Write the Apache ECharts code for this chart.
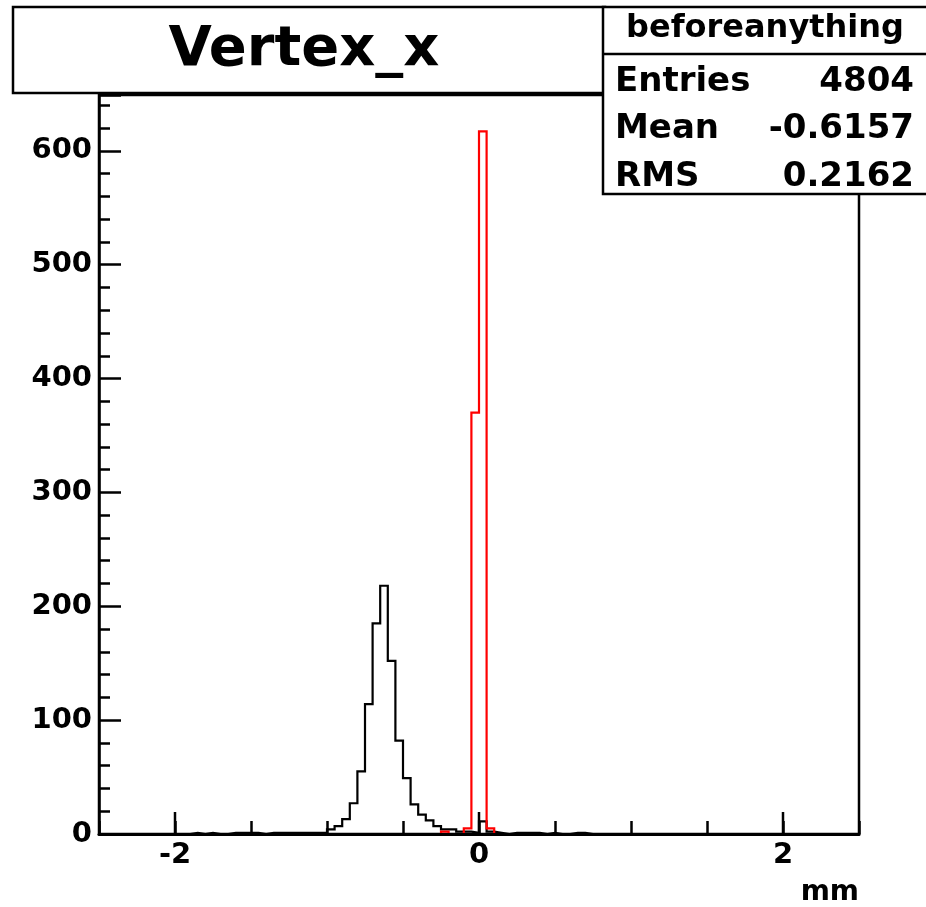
<!DOCTYPE html>
<html><head><meta charset="utf-8">
<script src="https://cdn.jsdelivr.net/npm/echarts@6/dist/echarts.min.js"></script>
<style>html,body{margin:0;padding:0;background:#fff}#c{width:926px;height:907px}</style>
</head><body><div id="c"></div>
<script>
const titleText = 'Vertex_x';
const statsName = 'beforeanything';
const statsLabels = ['Entries', 'Mean', 'RMS'];
const statsValues = ['4804', '-0.6157', '0.2162'];
const xAxisTitle = 'mm';
const xMin = -2.5, xMax = 2.5, binWidth = 0.05;
const yMax = 649;
const xLabelTicks = [-2, 0, 2];

// black histogram ("beforeanything"), 100 bins from -2.5 to 2.5
const blackCounts = [
  0,0,0,0,0,0,0,0,0,0,
  0,0,1,0,1,0,0,1,1,1,
  1,0,1,1,1,1,1,1,1,1,
  4,7,13,27,55,114,185,218,152,82,
  49,26,17,12,7,4,4,2,2,1,
  11,2,1,0,1,1,1,1,0,1,
  0,0,1,1,0,0,0,0,0,0,
  0,0,0,0,0,0,0,0,0,0,
  0,0,0,0,0,0,0,0,0,0,
  0,0,0,0,0,0,0,0,0,0
];
// red histogram, same binning
const redCounts = [
  0,0,0,0,0,0,0,0,0,0,
  0,0,0,0,0,0,0,0,0,0,
  0,0,0,0,0,0,0,0,0,0,
  0,0,0,0,0,0,0,0,0,0,
  0,0,0,0,0,2,0,0,5,370,
  617,5,0,0,0,0,0,0,0,0,
  0,0,0,0,0,0,0,0,0,0,
  0,0,0,0,0,0,0,0,0,0,
  0,0,0,0,0,0,0,0,0,0,
  0,0,0,0,0,0,0,0,0,0
];

function stepData(counts) {
  const d = [];
  for (let i = 0; i < counts.length; i++) d.push([xMin + i * binWidth, counts[i]]);
  d.push([xMax, counts[counts.length - 1]]);
  return d;
}

const FF = "'DejaVu Sans', sans-serif";
const chart = echarts.init(document.getElementById('c'), null, {renderer: 'canvas'});

function txt(text, x, y, size, align, valign) {
  return {
    type: 'text', x: x, y: y, z: 110,
    style: {text: text, fill: '#000', fontSize: size, fontWeight: 'bold', fontFamily: FF,
            align: align, textAlign: align, verticalAlign: valign, textVerticalAlign: valign}
  };
}

const rowY = [82, 129, 177];
const graphics = [
  {type: 'rect', z: 100, shape: {x: 13, y: 7, width: 592, height: 86},
   style: {fill: '#fff', stroke: '#000', lineWidth: 2.5}},
  txt(titleText, 304, 50, 56, 'center', 'middle'),
  {type: 'rect', z: 100, shape: {x: 603, y: 7, width: 340, height: 187},
   style: {fill: '#fff', stroke: '#000', lineWidth: 2.5}},
  {type: 'line', z: 101, shape: {x1: 603, y1: 54, x2: 930, y2: 54},
   style: {stroke: '#000', lineWidth: 2.5}},
  txt(statsName, 765, 29, 32, 'center', 'middle'),
  txt(xAxisTitle, 859, 893, 28, 'right', 'middle')
];
statsLabels.forEach((l, i) => {
  graphics.push(txt(l, 615, rowY[i], 34, 'left', 'middle'));
  graphics.push(txt(statsValues[i], 914, rowY[i], 34, 'right', 'middle'));
});

const option = {
  backgroundColor: '#fff',
  animation: false,
  grid: {left: 99, right: 67, top: 95, bottom: 73, show: true, borderColor: '#000', borderWidth: 2.5, backgroundColor: '#fff'},
  xAxis: {
    type: 'value', min: xMin, max: xMax, interval: 0.5, z: 10,
    axisLine: {show: true, onZero: false, lineStyle: {color: '#000', width: 3}},
    axisTick: {show: true, inside: true, length: 13, lineStyle: {color: '#000', width: 2.5}},
    splitLine: {show: false},
    axisLabel: {
      margin: 7, color: '#000', fontSize: 29, fontWeight: 'bold', fontFamily: FF,
      formatter: function (v) {
        for (const t of xLabelTicks) if (Math.abs(v - t) < 1e-9) return String(t);
        return '';
      }
    }
  },
  yAxis: {
    type: 'value', min: 0, max: yMax, interval: 100, z: 10,
    axisLine: {show: true, onZero: false, lineStyle: {color: '#000', width: 2.5}},
    axisTick: {show: true, inside: true, length: 22, lineStyle: {color: '#000', width: 2.5}},
    minorTick: {show: true, splitNumber: 5, length: 11, lineStyle: {color: '#000', width: 2.5}},
    splitLine: {show: false},
    minorSplitLine: {show: false},
    axisLabel: {margin: 7, color: '#000', fontSize: 29, fontWeight: 'bold', fontFamily: FF, showMaxLabel: false}
  },
  series: [
    {
      type: 'custom', z: 11,
      data: xLabelTicks.map(v => [v]),
      encode: {x: 0},
      renderItem: function (params, api) {
        const p = api.coord([api.value(0), 0]);
        return {type: 'line', shape: {x1: p[0], y1: p[1], x2: p[0], y2: p[1] - 22},
                style: {stroke: '#000', lineWidth: 2.5}};
      }
    },
    {
      type: 'line', step: 'end', data: stepData(blackCounts), showSymbol: false, symbol: 'none',
      lineStyle: {color: '#000', width: 2.2, join: 'miter'}, z: 4, silent: true
    },
    {
      type: 'line', step: 'end', data: stepData(redCounts), showSymbol: false, symbol: 'none',
      lineStyle: {color: '#ff0000', width: 2.2, join: 'miter'}, z: 5, silent: true
    }
  ],
  graphic: graphics
};
chart.setOption(option);
</script>
</body></html>
